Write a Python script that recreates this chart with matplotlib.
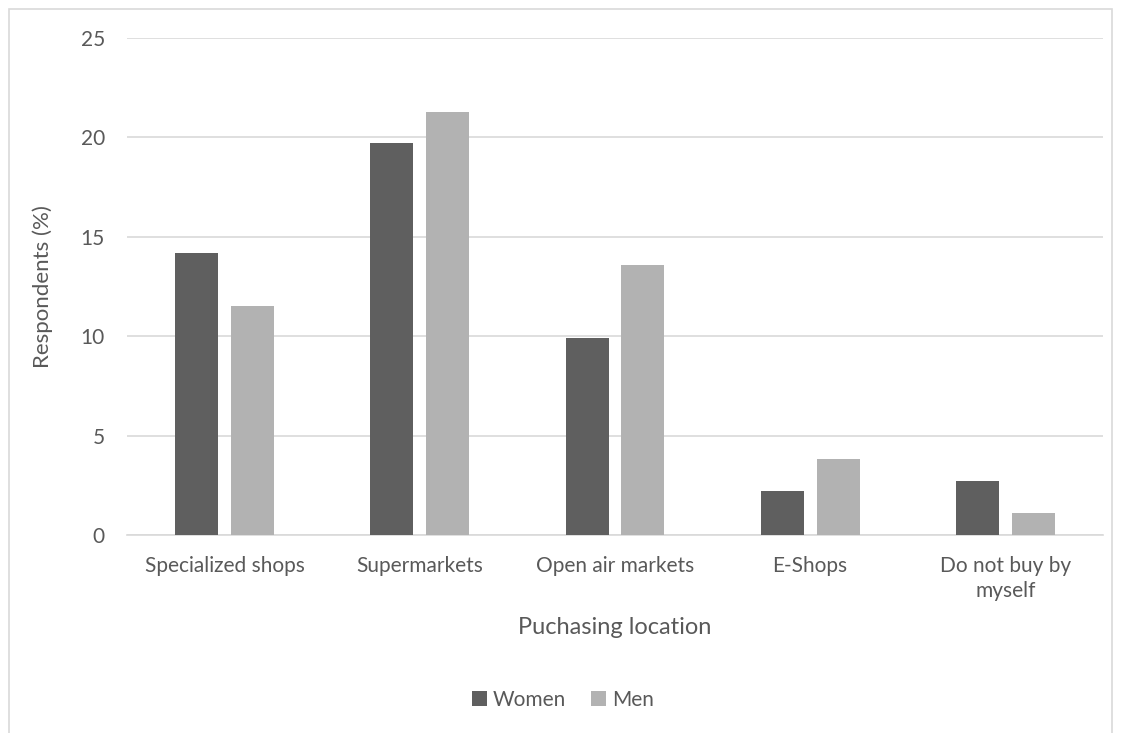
import numpy as np
import matplotlib.pyplot as plt
from matplotlib.patches import Rectangle

categories = ["Specialized shops", "Supermarkets", "Open air markets", "E-Shops", "Do not buy by\nmyself"]
women = [14.2, 19.7, 9.9, 2.2, 2.7]
men = [11.5, 21.3, 13.6, 3.8, 1.1]

plt.rcParams['font.family'] = ['Lato', 'DejaVu Sans']
txt = '#595959'

fig = plt.figure(figsize=(11.25, 7.33), dpi=100)
ax = fig.add_axes([0.1129, 0.2701, 0.8675, 0.6781])

# outer chart border
fig.patches.append(Rectangle((9 / 1125, -0.01), 1103 / 1125, 1 - 9 / 733 + 0.01,
                             transform=fig.transFigure, fill=False,
                             edgecolor='#d9d9d9', linewidth=1.2))

x = np.arange(len(categories))
w = 0.22
ax.bar(x - 0.143, women, w, color='#5f5f5f', label='Women', zorder=3)
ax.bar(x + 0.143, men, w, color='#b2b2b2', label='Men', zorder=3)

ax.set_xlim(-0.5, len(categories) - 0.5)
ax.set_ylim(0, 25)
ax.set_yticks(np.arange(0, 26, 5))
ax.yaxis.grid(True, color='#d9d9d9', linewidth=1.2, zorder=0)
for s in ['top', 'right', 'left']:
    ax.spines[s].set_visible(False)
ax.spines['bottom'].set_color('#d9d9d9')
ax.spines['bottom'].set_linewidth(1.2)
ax.tick_params(length=0, labelsize=15, colors=txt)
ax.tick_params(axis='x', pad=15)
ax.tick_params(axis='y', pad=16)
ax.set_xticks(x)
ax.set_xticklabels(categories, linespacing=1.35)

ax.set_ylabel('Respondents (%)', fontsize=16, color=txt, labelpad=20)
ax.set_xlabel('Puchasing location', fontsize=17, color=txt, labelpad=11)

ax.legend(loc='center', bbox_to_anchor=(563 / 1125, 1 - 700 / 733),
          bbox_transform=fig.transFigure, ncol=2, frameon=False,
          fontsize=15, labelcolor=txt, handlelength=0.7, handleheight=0.7,
          handletextpad=0.3, columnspacing=1.2)

fig.savefig('out.png', dpi=100)
